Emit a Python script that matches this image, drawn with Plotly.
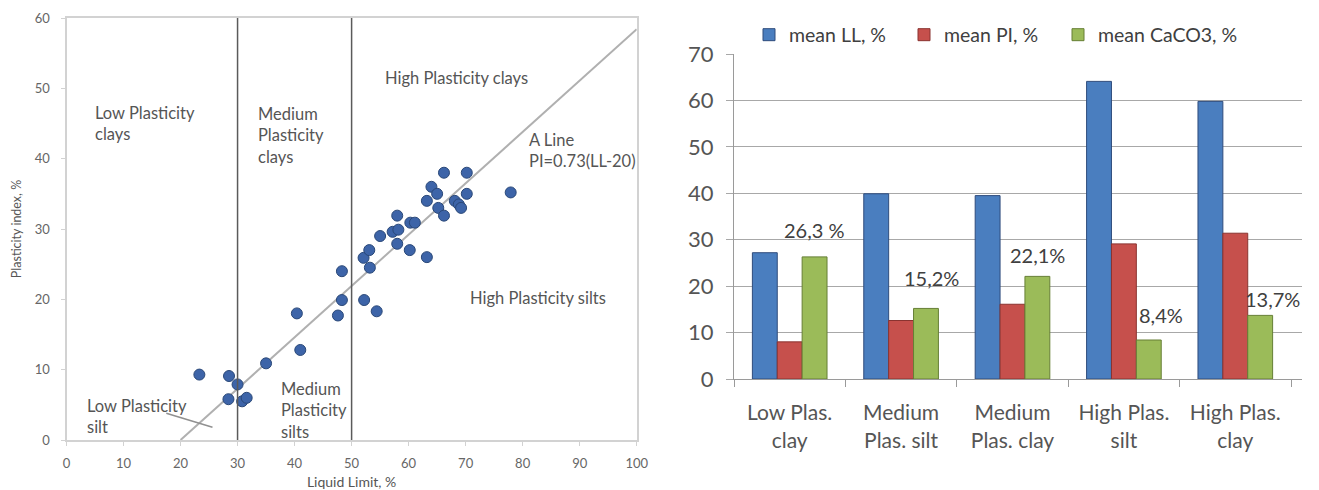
import plotly.graph_objects as go

# ---------------- data: plasticity chart ----------------
LL = [23.3, 28.5, 30.0, 28.4, 30.8, 31.6, 35.0, 40.4, 41.0, 47.6, 48.3, 48.3,
      52.2, 54.4, 52.1, 53.1, 53.2, 55.0, 57.2, 58.2, 58.0, 58.0, 60.2, 60.3,
      61.1, 63.2, 63.2, 64.0, 65.0, 65.2, 66.2, 66.2, 68.1, 68.8, 69.2, 70.2,
      70.2, 77.9]
PI = [9.3, 9.1, 7.9, 5.8, 5.5, 6.0, 10.9, 18.0, 12.8, 17.7, 19.9, 24.0,
      19.9, 18.3, 25.9, 27.0, 24.5, 29.0, 29.6, 29.9, 31.9, 27.9, 27.0, 30.9,
      30.9, 26.0, 34.0, 36.0, 35.0, 33.0, 31.9, 38.0, 34.0, 33.5, 33.0, 38.0,
      35.0, 35.2]
A_LINE_LL = [20, 100]
A_LINE_PI = [0, 58.4]
BOUNDARY_LL = [30, 50]
LEFT_XTICKS = [0, 10, 20, 30, 40, 50, 60, 70, 80, 90, 100]
LEFT_YTICKS = [0, 10, 20, 30, 40, 50, 60]

# ---------------- data: bar chart ----------------
CATEGORIES = ["Low Plas.<br>clay", "Medium<br>Plas. silt", "Medium<br>Plas. clay",
              "High Plas.<br>silt", "High Plas.<br>clay"]
SERIES_NAMES = ["mean LL, %", "mean PI, %", "mean CaCO3, %"]
MEAN_LL = [27.2, 39.9, 39.5, 64.1, 59.8]
MEAN_PI = [8.0, 12.6, 16.1, 29.1, 31.4]
MEAN_CACO3 = [26.3, 15.2, 22.1, 8.4, 13.7]
CACO3_LABELS = ["26,3 %", "15,2%", "22,1%", "8,4%", "13,7%"]
RIGHT_YTICKS = [0, 10, 20, 30, 40, 50, 60, 70]

# ---------------- style ----------------
FONT = "Lato"
W, H = 1319, 490
TXT = "#555555"
label_dx = [0, 5, 0, 12, 12]      # px, label offset from green bar centre
label_dy = [27, 30, 21, 25, 16]   # px, label centre above bar top
green_offset = 25.2               # px, green bar centre from category centre
legend_px = [749, 904, 1058]      # px, left edge of each legend entry

fig = go.Figure()

fig.add_trace(go.Scatter(
    x=A_LINE_LL, y=A_LINE_PI, mode="lines", xaxis="x", yaxis="y",
    line=dict(color="#b0b0b0", width=2), showlegend=False, hoverinfo="skip"))

fig.add_trace(go.Scatter(
    x=LL, y=PI, mode="markers", xaxis="x", yaxis="y",
    marker=dict(size=11, color="#3d64a8", line=dict(color="#2a4878", width=1)),
    showlegend=False))

bar_colors = [("#4a7ebf", "#2f4c7c"), ("#c6504c", "#8a3330"), ("#9bbb59", "#667f35")]
legend_ids = ["legend", "legend2", "legend3"]
for name, vals, (col, edge), lid in zip(SERIES_NAMES, [MEAN_LL, MEAN_PI, MEAN_CACO3],
                                        bar_colors, legend_ids):
    fig.add_trace(go.Bar(
        x=CATEGORIES, y=vals, name=name, xaxis="x2", yaxis="y2", legend=lid,
        marker=dict(color=col, line=dict(color=edge, width=1))))

shapes = []
for b in BOUNDARY_LL:
    shapes.append(dict(type="line", xref="x", yref="y", x0=b, x1=b, y0=0, y1=60,
                       line=dict(color="#5a5a5a", width=1.5)))
# pointer line of "Low Plasticity silt"
shapes.append(dict(type="line", xref="x", yref="y", x0=17.5, y0=3.8, x1=25.6, y1=1.8,
                   line=dict(color="#909090", width=1.5)))

ann = []
region_texts = [
    ("Low Plasticity<br>clays", 4.6, 48.2, "top"),
    ("Medium<br>Plasticity<br>clays", 33.2, 48.0, "top"),
    ("High Plasticity clays", 55.5, 51.4, "middle"),
    ("A Line<br>PI=0.73(LL-20)", 80.8, 44.4, "top"),
    ("High Plasticity silts", 70.4, 20.2, "middle"),
    ("Medium<br>Plasticity<br>silts", 37.3, 9.0, "top"),
    ("Low Plasticity<br>silt", 3.2, 6.6, "top"),
]
for t, x, y, ya in region_texts:
    ann.append(dict(text=t, x=x, y=y, xref="x", yref="y", xanchor="left", yanchor=ya,
                    align="left", showarrow=False, font=dict(family=FONT, size=16.5, color=TXT)))

for i, (cat, v, lab) in enumerate(zip(CATEGORIES, MEAN_CACO3, CACO3_LABELS)):
    ann.append(dict(text=lab, x=cat, y=v, xref="x2", yref="y2", xanchor="center",
                    yanchor="middle", xshift=green_offset + label_dx[i], yshift=label_dy[i],
                    showarrow=False, font=dict(family=FONT, size=20, color="#404040")))

legend_style = dict(orientation="h", y=1 - 35 / H, xanchor="left", yanchor="middle",
                    itemwidth=30, font=dict(family=FONT, size=19.5, color="#404040"),
                    bgcolor="rgba(0,0,0,0)")

fig.update_layout(
    width=W, height=H, margin=dict(l=0, r=0, t=0, b=0, autoexpand=False),
    paper_bgcolor="white", plot_bgcolor="white",
    font=dict(family=FONT, color=TXT),
    shapes=shapes, annotations=ann,
    barmode="group", bargap=0.33, bargroupgap=0,
    xaxis=dict(domain=[66.5 / W, 636.7 / W], range=[0, 100], tickvals=LEFT_XTICKS,
               automargin=False,
               showgrid=False, zeroline=False, showline=True, mirror=True,
               linecolor="#d2d2d2", linewidth=2, ticks="outside", ticklen=4,
               tickcolor="#d2d2d2", ticklabelstandoff=6,
               tickfont=dict(family=FONT, size=13, color="#666666"),
               title=dict(text="Liquid Limit, %", standoff=9,
                          font=dict(family=FONT, size=14, color="#555555")),
               anchor="y", fixedrange=True),
    yaxis=dict(domain=[1 - 440 / H, 1 - 18 / H], range=[0, 60], tickvals=LEFT_YTICKS,
               automargin=False,
               showgrid=False, zeroline=False, showline=True, mirror=True,
               linecolor="#d2d2d2", linewidth=2, ticks="outside", ticklen=4,
               tickcolor="#d2d2d2", ticklabelstandoff=8,
               tickfont=dict(family=FONT, size=13, color="#666666"),
               title=dict(text="Plasticity index, %", standoff=10,
                          font=dict(family=FONT, size=12.5, color="#555555")),
               anchor="x", fixedrange=True),
    xaxis2=dict(domain=[734 / W, 1302 / W], type="category", anchor="y2",
                automargin=False,
                showgrid=False, showline=True, linecolor="#9a9a9a", linewidth=1,
                ticks="outside", tickson="boundaries", ticklen=7, tickcolor="#9a9a9a",
                ticklabelstandoff=15,
                tickfont=dict(family=FONT, size=21, color="#555555"), fixedrange=True),
    yaxis2=dict(domain=[1 - 379 / H, 1 - 54 / H], range=[0, 70], tickvals=RIGHT_YTICKS,
                automargin=False,
                anchor="x2", showgrid=True, gridcolor="#a8a8a8", gridwidth=1,
                zeroline=False, showline=True, linecolor="#9a9a9a", linewidth=1,
                ticks="outside", ticklen=7, tickcolor="#a8a8a8", ticklabelstandoff=8,
                tickfont=dict(family=FONT, size=22, color="#555555"), fixedrange=True),
    legend=dict(x=legend_px[0] / W, **legend_style),
    legend2=dict(x=legend_px[1] / W, **legend_style),
    legend3=dict(x=legend_px[2] / W, **legend_style),
)

fig.write_html("out.html", config={"displayModeBar": False},
               post_script="document.body.style.margin='0px';")
